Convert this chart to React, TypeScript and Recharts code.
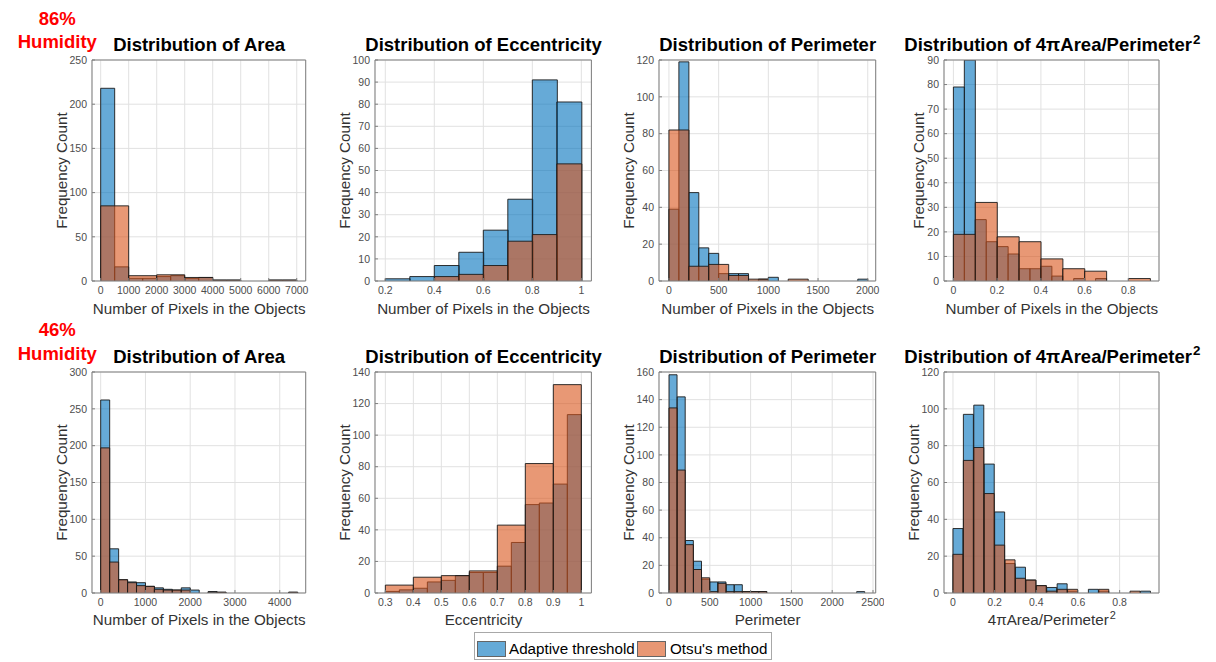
import React from 'react';
import { ComposedChart, Bar, XAxis, YAxis, CartesianGrid } from 'recharts';

const FONT = "'Liberation Sans', Arial, Helvetica, sans-serif";
const ADAPTIVE = '#0072BD';
const OTSU = '#D95319';
const AXIS = '#808080';
const GRID = '#e1e1e1';
const TICK = '#4d4d4d';
const LABEL = '#333333';

// ---------- 86% humidity ----------
// Area: adaptive bins of 500 px, Otsu bins of 1000 px, from 0
const area86Adaptive = [218, 16, 3, 3, 5, 6, 3, 4, 1, 1, 0, 0, 1, 1];
const area86Otsu = [85, 6, 7, 4, 1, 0, 1];
const area86XTicks = [0, 1000, 2000, 3000, 4000, 5000, 6000, 7000];
const area86YTicks = [0, 50, 100, 150, 200, 250];

// Eccentricity: bins of 0.1 from 0.2
const ecc86Adaptive = [1, 2, 7, 13, 23, 37, 91, 81];
const ecc86Otsu = [0, 0, 2, 3, 7, 18, 21, 53];
const ecc86XTicks = [0.2, 0.4, 0.6, 0.8, 1];
const ecc86YTicks = [0, 10, 20, 30, 40, 50, 60, 70, 80, 90, 100];

// Perimeter: adaptive bins of 100, Otsu bins of 200, from 0
const per86Adaptive = [39, 119, 48, 18, 15, 4, 4, 4, 0, 1, 2, 0, 0, 0, 0, 0, 0, 0, 0, 1];
const per86Otsu = [82, 8, 9, 3, 1, 0, 1];
const per86XTicks = [0, 500, 1000, 1500, 2000];
const per86YTicks = [0, 20, 40, 60, 80, 100, 120];

// 4*pi*Area/Perimeter^2: adaptive bins of 0.05, Otsu bins of 0.1, from 0
const circ86Adaptive = [79, 90, 25, 16, 14, 11, 5, 5, 6, 2, 0, 1, 0, 1, 0, 0, 0, 0];
const circ86Otsu = [19, 32, 18, 16, 9, 5, 4, 0, 1];
const circ86XTicks = [0, 0.2, 0.4, 0.6, 0.8];
const circ86YTicks = [0, 10, 20, 30, 40, 50, 60, 70, 80, 90];

// ---------- 46% humidity ----------
// Area: bins of 200 px from 0
const area46Adaptive = [262, 60, 18, 15, 14, 9, 7, 5, 4, 7, 4, 0, 2, 1, 0, 0, 0, 0, 0, 0, 0, 1];
const area46Otsu = [197, 42, 18, 14, 10, 9, 5, 4, 4, 4, 0, 0, 1, 1, 0, 0, 0, 0, 0, 0, 0, 1];
const area46XTicks = [0, 1000, 2000, 3000, 4000];
const area46YTicks = [0, 50, 100, 150, 200, 250, 300];

// Eccentricity: adaptive bins of 0.05, Otsu bins of 0.1, from 0.3
const ecc46Adaptive = [1, 2, 3, 7, 8, 11, 13, 13, 17, 32, 56, 57, 69, 113];
const ecc46Otsu = [5, 10, 11, 14, 43, 82, 132];
const ecc46XTicks = [0.3, 0.4, 0.5, 0.6, 0.7, 0.8, 0.9, 1];
const ecc46YTicks = [0, 20, 40, 60, 80, 100, 120, 140];

// Perimeter: bins of 100 from 0
const per46Adaptive = [158, 142, 38, 23, 10, 8, 8, 6, 6, 1, 1, 1, 0, 0, 0, 0, 0, 0, 0, 0, 0, 0, 0, 1];
const per46Otsu = [134, 89, 35, 17, 11, 1, 7, 1, 1, 1, 1, 1];
const per46XTicks = [0, 500, 1000, 1500, 2000, 2500];
const per46YTicks = [0, 20, 40, 60, 80, 100, 120, 140, 160];

// 4*pi*Area/Perimeter^2: bins of 0.05 from 0
const circ46Adaptive = [35, 97, 102, 70, 44, 16, 14, 7, 4, 3, 5, 1, 0, 2, 1, 0, 0, 0, 1];
const circ46Otsu = [21, 72, 79, 54, 26, 18, 8, 7, 4, 1, 2, 2, 0, 0, 2, 0, 0, 1, 0];
const circ46XTicks = [0, 0.2, 0.4, 0.6, 0.8];
const circ46YTicks = [0, 20, 40, 60, 80, 100, 120];

// plot boxes on the page
const COL_L = [92.3, 375.3, 659.3, 944.3];
const COL_R = [306, 591.7, 876, 1159.3];
const ROW_T = [60, 371.7];
const PLOT_H = 221;

const sup2 = <span style={{ fontSize: '0.72em', position: 'relative', top: '-0.55em', marginLeft: 1 }}>2</span>;
const circTitle = <>Distribution of 4πArea/Perimeter{sup2}</>;
const circLabel = <>4πArea/Perimeter{sup2}</>;
const pixLabel = 'Number of Pixels in the Objects';

interface PanelDef {
  row: number;
  col: number;
  title: React.ReactNode;
  xLabel: React.ReactNode;
  start: number;
  width: number;
  span: number;
  adaptive: number[];
  otsu: number[];
  xDomain: [number, number];
  xTicks: number[];
  yTicks: number[];
}

const PANELS: PanelDef[] = [
  { row: 0, col: 0, title: 'Distribution of Area', xLabel: pixLabel, start: 0, width: 500, span: 2, adaptive: area86Adaptive, otsu: area86Otsu, xDomain: [-310, 7320], xTicks: area86XTicks, yTicks: area86YTicks },
  { row: 0, col: 1, title: 'Distribution of Eccentricity', xLabel: pixLabel, start: 0.2, width: 0.1, span: 1, adaptive: ecc86Adaptive, otsu: ecc86Otsu, xDomain: [0.158, 1.041], xTicks: ecc86XTicks, yTicks: ecc86YTicks },
  { row: 0, col: 2, title: 'Distribution of Perimeter', xLabel: pixLabel, start: 0, width: 100, span: 2, adaptive: per86Adaptive, otsu: per86Otsu, xDomain: [-100, 2080], xTicks: per86XTicks, yTicks: per86YTicks },
  { row: 0, col: 3, title: circTitle, xLabel: pixLabel, start: 0, width: 0.05, span: 2, adaptive: circ86Adaptive, otsu: circ86Otsu, xDomain: [-0.043, 0.94], xTicks: circ86XTicks, yTicks: circ86YTicks },
  { row: 1, col: 0, title: 'Distribution of Area', xLabel: pixLabel, start: 0, width: 200, span: 1, adaptive: area46Adaptive, otsu: area46Otsu, xDomain: [-194, 4580], xTicks: area46XTicks, yTicks: area46YTicks },
  { row: 1, col: 1, title: 'Distribution of Eccentricity', xLabel: 'Eccentricity', start: 0.3, width: 0.05, span: 2, adaptive: ecc46Adaptive, otsu: ecc46Otsu, xDomain: [0.263, 1.036], xTicks: ecc46XTicks, yTicks: ecc46YTicks },
  { row: 1, col: 2, title: 'Distribution of Perimeter', xLabel: 'Perimeter', start: 0, width: 100, span: 1, adaptive: per46Adaptive, otsu: per46Otsu, xDomain: [-123, 2533], xTicks: per46XTicks, yTicks: per46YTicks },
  { row: 1, col: 3, title: circTitle, xLabel: circLabel, start: 0, width: 0.05, span: 1, adaptive: circ46Adaptive, otsu: circ46Otsu, xDomain: [-0.043, 0.989], xTicks: circ46XTicks, yTicks: circ46YTicks },
];

function buildRows(p: PanelDef) {
  return p.adaptive.map((a, i) => ({
    bin: i,
    mid: p.start + (i + 0.5) * p.width,
    adaptive: a,
    // a wider Otsu bin is drawn once, from its first fine bin
    otsu: i % p.span === 0 ? p.otsu[i / p.span] ?? 0 : 0,
  }));
}

function HistBar(props: any) {
  const { x, y, width, height, fill, span = 1 } = props;
  if (!height || height <= 0) return <g />;
  const w = width * span;
  return (
    <g>
      <rect x={x} y={y} width={w} height={height} fill={fill} fillOpacity={0.6} />
      <path
        d={`M${x},${y + height}V${y}H${x + w}V${y + height}`}
        fill="none"
        stroke="#1a1a1a"
        strokeWidth={0.9}
      />
    </g>
  );
}

function Panel({ p }: { p: PanelDef }) {
  const left = COL_L[p.col];
  const pw = COL_R[p.col] - left;
  const top = ROW_T[p.row];
  const [lo, hi] = p.xDomain;
  const binEnd = p.start + p.adaptive.length * p.width;
  const padL = (pw * (p.start - lo)) / (hi - lo);
  const padR = (pw * (hi - binEnd)) / (hi - lo);
  const yMax = p.yTicks[p.yTicks.length - 1];
  const rows = buildRows(p);
  const tickFont = { fontSize: 10.5, fill: TICK, fontFamily: FONT };
  const yGap = String(yMax).length > 2 ? 26 : 21;

  return (
    <>
      <div style={{ position: 'absolute', left: left - 55, top: top - 8 }}>
        <ComposedChart
          width={pw + 63}
          height={PLOT_H + 38}
          data={rows}
          margin={{ top: 8, right: 8, left: 5, bottom: 0 }}
          barCategoryGap={0}
          barGap={0}
        >
          <CartesianGrid xAxisId="num" stroke={GRID} />
          <XAxis
            xAxisId="num"
            dataKey="mid"
            type="number"
            domain={p.xDomain}
            ticks={p.xTicks}
            allowDataOverflow
            interval={0}
            height={30}
            tickSize={-3}
            tickMargin={9}
            axisLine={{ stroke: AXIS }}
            tickLine={{ stroke: AXIS }}
            tick={tickFont}
          />
          <XAxis xAxisId="a" dataKey="bin" type="category" hide height={0} padding={{ left: padL, right: padR }} />
          <XAxis xAxisId="b" dataKey="bin" type="category" hide height={0} padding={{ left: padL, right: padR }} />
          <XAxis
            xAxisId="top"
            dataKey="mid"
            type="number"
            orientation="top"
            mirror
            domain={p.xDomain}
            ticks={p.xTicks}
            allowDataOverflow
            interval={0}
            tickSize={3}
            tick={false}
            axisLine={{ stroke: AXIS }}
            tickLine={{ stroke: AXIS }}
          />
          <YAxis
            domain={[0, yMax]}
            ticks={p.yTicks}
            allowDataOverflow
            interval={0}
            width={50}
            tickSize={-3}
            tickMargin={8}
            axisLine={{ stroke: AXIS }}
            tickLine={{ stroke: AXIS }}
            tick={tickFont}
          />
          <YAxis
            yAxisId="r"
            orientation="right"
            mirror
            domain={[0, yMax]}
            ticks={p.yTicks}
            allowDataOverflow
            interval={0}
            tickSize={3}
            tick={false}
            axisLine={{ stroke: AXIS }}
            tickLine={{ stroke: AXIS }}
          />
          <Bar
            xAxisId="a"
            dataKey="adaptive"
            name="Adaptive threshold"
            fill={ADAPTIVE}
            isAnimationActive={false}
            shape={(s: any) => <HistBar {...s} />}
          />
          <Bar
            xAxisId="b"
            dataKey="otsu"
            name="Otsu's method"
            fill={OTSU}
            isAnimationActive={false}
            shape={(s: any) => <HistBar {...s} span={p.span} />}
          />
        </ComposedChart>
      </div>
      <div
        style={{
          position: 'absolute',
          left: left - 40,
          width: pw + 80,
          top: top - 24,
          fontSize: 18.5,
          lineHeight: '18.5px',
          fontWeight: 'bold',
          textAlign: 'center',
          whiteSpace: 'nowrap',
          color: '#000',
        }}
      >
        {p.title}
      </div>
      <div
        style={{
          position: 'absolute',
          left: left - 40,
          width: pw + 80,
          top: top + PLOT_H + 19.6,
          fontSize: 15.2,
          lineHeight: '15.2px',
          textAlign: 'center',
          whiteSpace: 'nowrap',
          color: LABEL,
        }}
      >
        {p.xLabel}
      </div>
      <div
        style={{
          position: 'absolute',
          left: left - yGap - 5.3 - PLOT_H / 2,
          top: top + PLOT_H / 2 - 7.6,
          width: PLOT_H,
          height: 15.2,
          fontSize: 15.2,
          lineHeight: '15.2px',
          textAlign: 'center',
          whiteSpace: 'nowrap',
          transform: 'rotate(-90deg)',
          color: LABEL,
        }}
      >
        Frequency Count
      </div>
    </>
  );
}

const humidity = ['86%', '46%'];

export default function App() {
  return (
    <div
      style={{
        position: 'absolute',
        left: 0,
        top: 0,
        width: 1216,
        height: 662,
        overflow: 'hidden',
        background: '#fff',
        fontFamily: FONT,
      }}
    >
      {humidity.map((h, r) => (
        <div
          key={h}
          style={{
            position: 'absolute',
            left: 0,
            width: 114.6,
            top: ROW_T[r] - 53.3,
            fontSize: 18.5,
            lineHeight: '23.7px',
            fontWeight: 'bold',
            textAlign: 'center',
            color: '#ff0000',
          }}
        >
          {h}
          <br />
          Humidity
        </div>
      ))}
      {PANELS.map((p, i) => (
        <Panel key={i} p={p} />
      ))}
      <div
        style={{
          position: 'absolute',
          left: 474,
          top: 632,
          width: 296,
          height: 26,
          border: '1px solid #a8a8a8',
          background: '#fff',
          fontSize: 15.2,
          lineHeight: '15.2px',
          color: '#000',
        }}
      >
        <div style={{ position: 'absolute', left: 2.3, top: 8, width: 27, height: 14, background: ADAPTIVE, opacity: 0.6, border: '1px solid #000' }} />
        <div style={{ position: 'absolute', left: 34, top: 8.1, whiteSpace: 'nowrap' }}>Adaptive threshold</div>
        <div style={{ position: 'absolute', left: 162.3, top: 8, width: 27, height: 14, background: OTSU, opacity: 0.6, border: '1px solid #000' }} />
        <div style={{ position: 'absolute', left: 195, top: 8.1, whiteSpace: 'nowrap' }}>Otsu's method</div>
      </div>
    </div>
  );
}
